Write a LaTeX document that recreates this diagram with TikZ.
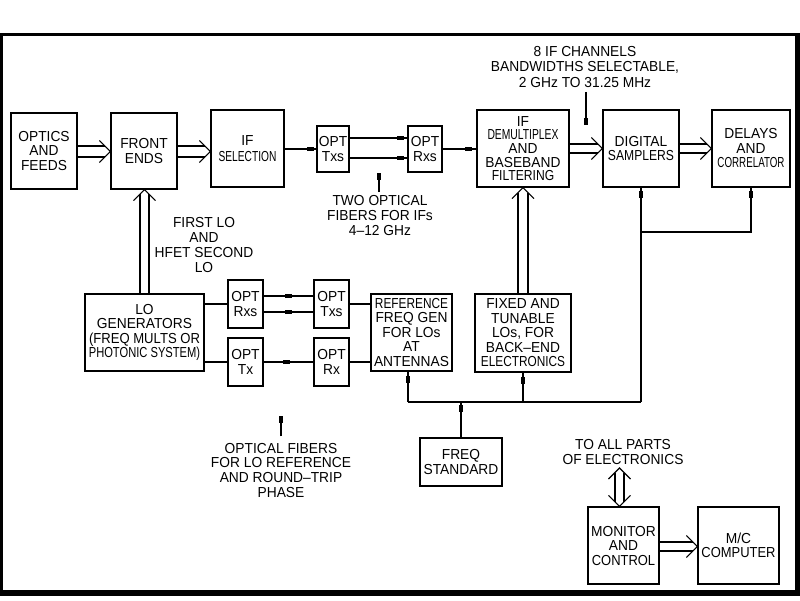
\documentclass[tikz,border=0pt]{standalone}
\usepackage{graphicx}
\usepackage{fontspec}
\setmainfont{Liberation Sans}[FakeStretch=0.95]
\usetikzlibrary{arrows.meta,decorations.markings}
\newcommand{\sqz}[2]{\scalebox{#1}[1]{#2}}
\begin{document}
\begin{tikzpicture}[x=1pt,y=-1pt,line width=1.1pt,
  box/.style={draw,rectangle,inner sep=0pt,align=center,font=\fontsize{14.5}{14.5}\selectfont},
  lbl/.style={inner sep=0pt,align=center,font=\fontsize{14.5}{14.8}\selectfont},
  tipat/.style={decoration={markings,mark=at position #1 with {\arrow{Rectangle[length=7pt,width=3.2pt]}}},postaction={decorate}},
  fretip/.style={-{Rectangle[length=7pt,width=3.2pt]}},
  chevR/.pic={\draw (-11,-11) -- (0,0) -- (-11,11);},
  chevU/.pic={\draw (-11,11) -- (0,0) -- (11,11);},
  chevD/.pic={\draw (-11,-11) -- (0,0) -- (11,-11);}]
\useasboundingbox (0,0) rectangle (800,600);
% frame
\fill (0,33) rectangle (800,36);
\fill (0,33) rectangle (3,596);
\fill (0,590) rectangle (800,596);
\fill (795,33) rectangle (800,596);

% boxes
\node[box,minimum width=66pt,minimum height=76pt] (of) at (44,151) {OPTICS\\AND\\FEEDS};
\node[box,minimum width=66pt,minimum height=76pt] (fe) at (144,151) {FRONT\\ENDS};
\node[box,minimum width=73pt,minimum height=77pt] (ifs) at (247.5,148.5) {IF\\[2pt]\sqz{0.74}{SELECTION}};
\node[box,minimum width=32pt,minimum height=46pt] (otx) at (333,149) {OPT\\Txs};
\node[box,minimum width=34pt,minimum height=46pt] (orx) at (425,149) {OPT\\Rxs};
\node[box,minimum width=92pt,minimum height=77pt,font=\fontsize{14.5}{13.6}\selectfont] (ifd) at (523,148.5) {IF\\\sqz{0.75}{DEMULTIPLEX}\\AND\\BASEBAND\\\sqz{0.88}{FILTERING}};
\node[box,minimum width=76pt,minimum height=77pt] (ds) at (641,148.5) {DIGITAL\\\sqz{0.88}{SAMPLERS}};
\node[box,minimum width=78pt,minimum height=77pt] (dc) at (751,148.5) {DELAYS\\AND\\\sqz{0.71}{CORRELATOR}};
\node[box,minimum width=119pt,minimum height=77pt] (lo) at (144.5,332.5) {LO\\GENERATORS\\\sqz{0.95}{(FREQ MULTS OR}\\\sqz{0.81}{PHOTONIC SYSTEM)}};
\node[box,minimum width=35pt,minimum height=48pt] (orxs) at (245.5,304) {OPT\\Rxs};
\node[box,minimum width=35pt,minimum height=48pt] (otxs) at (331.5,304) {OPT\\Txs};
\node[box,minimum width=35pt,minimum height=48pt] (otx1) at (245.5,362) {OPT\\Tx};
\node[box,minimum width=35pt,minimum height=48pt] (orx1) at (331.5,362) {OPT\\Rx};
\node[box,minimum width=81pt,minimum height=77pt] (ref) at (411.5,332.5) {\sqz{0.86}{REFERENCE}\\FREQ GEN\\FOR LOs\\AT\\ANTENNAS};
\node[box,minimum width=96pt,minimum height=78pt] (fix) at (523,333) {FIXED AND\\TUNABLE\\LOs, FOR\\BACK--END\\\sqz{0.86}{ELECTRONICS}};
\node[box,minimum width=82pt,minimum height=48pt] (fs) at (461,462) {FREQ\\STANDARD};
\node[box,minimum width=71pt,minimum height=77pt] (mc) at (623.5,545.5) {MONITOR\\AND\\\sqz{0.94}{CONTROL}};
\node[box,minimum width=81pt,minimum height=77pt] (mcc) at (738.5,545.5) {M/C\\\sqz{0.94}{COMPUTER}};

% labels
\node[lbl,font=\fontsize{14.5}{15.5}\selectfont] (l1) at (585,66.7) {8 IF CHANNELS\\BANDWIDTHS SELECTABLE,\\2 GHz TO 31.25 MHz};
\node[lbl] (l2) at (380,215.7) {TWO OPTICAL\\FIBERS FOR IFs\\4--12 GHz};
\node[lbl] (l3) at (204,245.2) {FIRST LO\\AND\\HFET SECOND\\LO};
\node[lbl] (l4) at (281,470.2) {OPTICAL FIBERS\\FOR LO REFERENCE\\AND ROUND--TRIP\\PHASE};
\node[lbl] (l5) at (623,451.7) {TO ALL PARTS\\OF ELECTRONICS};

% double-line connectors (IF path)
\draw[shorten >=5.5pt] (of.east |- 0,146) -- (fe.west |- 0,146);
\draw[shorten >=5.5pt] (of.east |- 0,157) -- (fe.west |- 0,157);
\pic at (fe.west |- 0,151.5) {chevR};
\draw[shorten >=5.5pt] (fe.east |- 0,146) -- (ifs.west |- 0,146);
\draw[shorten >=5.5pt] (fe.east |- 0,157) -- (ifs.west |- 0,157);
\pic at (ifs.west |- 0,151.5) {chevR};
\draw[shorten >=4.5pt] (ifd.east |- 0,144) -- (ds.west |- 0,144);
\draw[shorten >=4.5pt] (ifd.east |- 0,153) -- (ds.west |- 0,153);
\pic at (ds.west |- 0,148.5) {chevR};
\draw[shorten >=4.5pt] (ds.east |- 0,144) -- (dc.west |- 0,144);
\draw[shorten >=4.5pt] (ds.east |- 0,153) -- (dc.west |- 0,153);
\pic at (dc.west |- 0,148.5) {chevR};

% single IF connectors
\draw[tipat=-2pt] (ifs.east |- otx.west) -- (otx.west);
\draw[tipat=-3pt] (otx.east |- 0,138) -- (orx.west |- 0,138);
\draw[tipat=-3pt] (otx.east |- 0,158) -- (orx.west |- 0,158);
\draw[tipat=-4pt] (orx.east) -- (ifd.west |- orx.east);

% LO to front ends and fixed LOs to IF demux
\draw[shorten >=4.5pt] (lo.north -| 140,0) -- (fe.south -| 140,0);
\draw[shorten >=4.5pt] (lo.north -| 149,0) -- (fe.south -| 149,0);
\pic at (fe.south -| 144.5,0) {chevU};
\draw[shorten >=5pt] (fix.north -| 518,0) -- (ifd.south -| 518,0);
\draw[shorten >=5pt] (fix.north -| 528,0) -- (ifd.south -| 528,0);
\pic at (ifd.south) {chevU};

% LO reference optical links
\draw (lo.east |- orxs.west) -- (orxs.west);
\draw[tipat=0.57] (otxs.west |- 0,296) -- (orxs.east |- 0,296);
\draw[tipat=0.57] (otxs.west |- 0,312) -- (orxs.east |- 0,312);
\draw (otxs.east) -- (ref.west |- otxs.east);
\draw (lo.east |- otx1.west) -- (otx1.west);
\draw[tipat=0.53] (otx1.east) -- (orx1.west);
\draw (orx1.east) -- (ref.west |- orx1.east);

% reference distribution
\coordinate (bl) at (408,402);
\coordinate (br) at (ds.south |- bl);
\coordinate (tap) at (ds.south |- 0,232);
\draw (bl) -- (br);
\draw[tipat=-4pt] (bl) -- (bl |- ref.south);
\draw[tipat=-4pt] (fix.south |- bl) -- (fix.south);
\draw[tipat=-3pt] (fs.north) -- (fs.north |- bl);
\draw[tipat=-3pt] (br) -- (ds.south);
\draw[tipat=-3pt] (tap) -| (dc.south);

% pointer arrows from labels
\draw[fretip] ([yshift=-4pt]l1.south -| 586,0) -- (586,125);
\draw[fretip] ([yshift=3pt]l2.north -| 379,0) -- (orx.south -| 379,0);
\draw[fretip] ([yshift=6pt]l4.north) -- ++(0,-20);

% monitor and control
\coordinate (ta) at (619.5,468);
\draw[shorten <=4.5pt,shorten >=4.5pt] (615,468) -- (mc.north -| 615,0);
\draw[shorten <=4.5pt,shorten >=4.5pt] (624,468) -- (mc.north -| 624,0);
\pic at (ta) {chevU};
\pic at (mc.north -| ta) {chevD};
\draw[shorten >=4.5pt] (mc.east |- 0,542) -- (mcc.west |- 0,542);
\draw[shorten >=4.5pt] (mc.east |- 0,551) -- (mcc.west |- 0,551);
\pic at (mcc.west |- 0,546.5) {chevR};
\end{tikzpicture}
\end{document}
